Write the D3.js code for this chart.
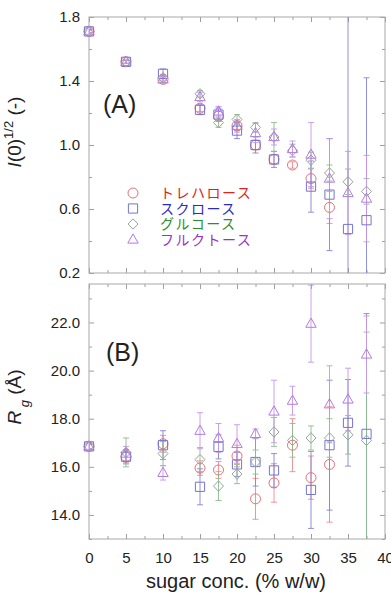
<!DOCTYPE html>
<html>
<head>
<meta charset="utf-8">
<script src="https://cdn.jsdelivr.net/npm/d3@7"></script>
<style>
body { margin: 0; background: #fff; }
text { font-family: "Liberation Sans", Arial, sans-serif; fill: #222; }
</style>
</head>
<body>
<script>
// sugar concentration (% w/w) for each series
var allX = [0, 5, 10, 15, 17.5, 20, 22.5, 25, 27.5, 30, 32.5, 35, 37.5];
var trehaloseX = [0, 5, 10, 15, 17.5, 20, 22.5, 25, 27.5, 30, 32.5];
var sucroseX = [0, 5, 10, 15, 17.5, 20, 22.5, 25, 30, 32.5, 35, 37.5];
var glucoseX = allX;
var fructoseX = allX;

// panel A: I(0)^1/2
var trehaloseI0 = [1.71, 1.52, 1.41, 1.23, 1.18, 1.12, 1.00, 0.91, 0.875, 0.79, 0.61];
var trehaloseI0Err = [0.01, 0.01, 0.02, 0.02, 0.03, 0.03, 0.03, 0.03, 0.02, 0.06, 0.1];
var sucroseI0 = [1.71, 1.52, 1.445, 1.22, 1.19, 1.09, 1.00, 0.91, 0.74, 0.69, 0.475, 0.53];
var sucroseI0Err = [0.01, 0.01, 0.03, 0.03, 0.04, 0.05, 0.05, 0.05, 0.16, 0.35, 1.5, 0.89];
var glucoseI0 = [1.71, 1.52, 1.42, 1.32, 1.14, 1.16, 1.11, 1.05, 0.965, 0.905, 0.825, 0.77, 0.71];
var glucoseI0Err = [0.01, 0.01, 0.02, 0.02, 0.03, 0.03, 0.03, 0.09, 0.04, 0.05, 0.05, 0.08, 0.08];
var fructoseI0 = [1.71, 1.52, 1.41, 1.30, 1.21, 1.12, 1.075, 1.05, 0.975, 0.94, 0.79, 0.70, 0.665];
var fructoseI0Err = [0.01, 0.01, 0.02, 0.03, 0.03, 0.04, 0.06, 0.05, 0.05, 0.2, 0.25, 0.26, 0.27];

// panel B: Rg (A)
var trehaloseRg = [16.85, 16.42, 16.96, 15.95, 15.87, 16.45, 14.67, 15.33, 16.9, 15.55, 16.1];
var trehaloseRgErr = [0.1, 0.25, 0.35, 0.3, 0.35, 0.45, 0.85, 0.8, 1.1, 0.9, 2.4];
var sucroseRg = [16.85, 16.42, 16.9, 15.17, 16.83, 16.1, 16.2, 15.85, 15.04, 16.9, 17.83, 17.37];
var sucroseRgErr = [0.1, 0.3, 0.6, 0.75, 0.5, 0.5, 1.0, 0.7, 1.6, 2.7, 1.8, 5];
var glucoseRg = [16.85, 16.6, 16.55, 16.3, 15.2, 15.7, 16.2, 17.45, 17.1, 17.2, 17.2, 17.33, 17.1];
var glucoseRgErr = [0.1, 0.6, 0.5, 0.5, 0.6, 0.4, 0.5, 0.6, 0.7, 0.5, 0.8, 0.8, 4.5];
var fructoseRg = [16.85, 16.55, 15.75, 17.5, 17.2, 16.95, 17.37, 18.3, 18.75, 21.95, 18.6, 18.8, 20.67];
var fructoseRgErr = [0.1, 0.3, 0.3, 0.75, 0.6, 0.8, 0.2, 1.3, 0.6, 1.6, 1.6, 1.3, 1.6];

var sugarNames = ['トレハロース', 'スクロース', 'グルコース', 'フルクトース'];
var xTicks = [0, 5, 10, 15, 20, 25, 30, 35, 40];
var i0Ticks = [0.2, 0.6, 1.0, 1.4, 1.8];
var rgTicks = [14, 16, 18, 20, 22];

var width = 391, height = 594;
var left = 89, right = 385;

var series = [
    { name: sugarNames[0], shape: 'circle', mark: '#e4727a', bar: '#ee8a8f', text: '#e3201c',
      x: trehaloseX, a: trehaloseI0, aErr: trehaloseI0Err, b: trehaloseRg, bErr: trehaloseRgErr },
    { name: sugarNames[1], shape: 'square', mark: '#7474d2', bar: '#8585d8', text: '#2a2ac4',
      x: sucroseX, a: sucroseI0, aErr: sucroseI0Err, b: sucroseRg, bErr: sucroseRgErr },
    { name: sugarNames[2], shape: 'diamond', mark: '#98a498', bar: '#8cbc8c', text: '#2a8f2a',
      x: glucoseX, a: glucoseI0, aErr: glucoseI0Err, b: glucoseRg, bErr: glucoseRgErr },
    { name: sugarNames[3], shape: 'triangle', mark: '#b47ae0', bar: '#c595ea', text: '#9830d4',
      x: fructoseX, a: fructoseI0, aErr: fructoseI0Err, b: fructoseRg, bErr: fructoseRgErr }
];

var svg = d3.select('body').append('svg')
    .attr('width', width)
    .attr('height', height);

var x = d3.scaleLinear().domain([0, 40]).range([left, right]);
var yA = d3.scaleLinear().domain([0.2, 1.8]).range([273, 17]);
var yB = d3.scaleLinear().domain([13, 23.6]).range([539, 284]);

function shapePath(shape) {
    if (shape == 'circle') return d3.symbol().type(d3.symbolCircle).size(Math.PI * 25)();
    if (shape == 'square') return 'M-4.6,-4.6H4.6V4.6H-4.6Z';
    if (shape == 'diamond') return 'M0,-5.2L5,0L0,5.2L-5,0Z';
    return 'M0,-5.6L5.2,3.6H-5.2Z';
}

function drawFrame(y, ticks, minor, showX) {
    var g = svg.append('g');

    // inward ticks on all four sides
    g.append('g').attr('transform', 'translate(' + left + ',0)')
        .call(d3.axisLeft(y).tickValues(minor).tickSize(-3).tickFormat(''));
    g.append('g').attr('transform', 'translate(' + left + ',0)')
        .call(d3.axisLeft(y).tickValues(ticks).tickSize(-5).tickPadding(9)
            .tickFormat(d3.format('.1f')));
    g.append('g').attr('transform', 'translate(' + right + ',0)')
        .call(d3.axisRight(y).tickValues(minor).tickSize(-3).tickFormat(''));
    g.append('g').attr('transform', 'translate(' + right + ',0)')
        .call(d3.axisRight(y).tickValues(ticks).tickSize(-5).tickFormat(''));

    var xMinor = d3.range(2.5, 40, 5);
    [y.range()[1], y.range()[0]].forEach(function(pos, k) {
        var top = k == 0;
        var axis = top ? d3.axisTop : d3.axisBottom;
        g.append('g').attr('transform', 'translate(0,' + pos + ')')
            .call(axis(x).tickValues(xMinor).tickSize(-3).tickFormat(''));
        var major = axis(x).tickValues(xTicks).tickSize(-5).tickPadding(13);
        if (top || !showX) major.tickFormat('');
        g.append('g').attr('transform', 'translate(0,' + pos + ')').call(major);
    });

    g.selectAll('.domain').remove();
    g.selectAll('.tick line').attr('stroke', '#a0a0a0');
    g.selectAll('.tick text').style('font-size', '15px').attr('fill', '#222');

    g.append('rect')
        .attr('x', left)
        .attr('y', y.range()[1])
        .attr('width', right - left)
        .attr('height', y.range()[0] - y.range()[1])
        .attr('fill', 'none')
        .attr('stroke', '#a8a8a8')
        .attr('stroke-width', 1);
}

function drawPoints(y, valKey, errKey, clipId) {
    svg.append('clipPath').attr('id', clipId)
        .append('rect')
        .attr('x', left).attr('y', y.range()[1])
        .attr('width', right - left).attr('height', y.range()[0] - y.range()[1]);

    var bars = svg.append('g').attr('clip-path', 'url(#' + clipId + ')');
    var marks = svg.append('g');

    series.forEach(function(s) {
        var pts = s.x.map(function(xv, i) {
            return { x: xv, v: s[valKey][i], e: s[errKey][i] };
        });

        var eb = bars.selectAll(null).data(pts).enter().append('g')
            .attr('stroke', s.bar)
            .attr('stroke-width', 0.9);
        eb.append('line')
            .attr('x1', function(d) { return x(d.x); })
            .attr('x2', function(d) { return x(d.x); })
            .attr('y1', function(d) { return y(d.v + d.e); })
            .attr('y2', function(d) { return y(d.v - d.e); });
        eb.append('line')
            .attr('x1', function(d) { return x(d.x) - 3; })
            .attr('x2', function(d) { return x(d.x) + 3; })
            .attr('y1', function(d) { return y(d.v + d.e); })
            .attr('y2', function(d) { return y(d.v + d.e); });
        eb.append('line')
            .attr('x1', function(d) { return x(d.x) - 3; })
            .attr('x2', function(d) { return x(d.x) + 3; })
            .attr('y1', function(d) { return y(d.v - d.e); })
            .attr('y2', function(d) { return y(d.v - d.e); });

        marks.selectAll(null).data(pts).enter().append('path')
            .attr('d', shapePath(s.shape))
            .attr('transform', function(d) { return 'translate(' + x(d.x) + ',' + y(d.v) + ')'; })
            .attr('fill', 'none')
            .attr('stroke', s.mark)
            .attr('stroke-width', 1);
    });
}

drawFrame(yA, i0Ticks, [0.4, 0.8, 1.2, 1.6], false);
drawFrame(yB, rgTicks, [13, 15, 17, 19, 21, 23], true);
drawPoints(yA, 'a', 'aErr', 'clipA');
drawPoints(yB, 'b', 'bErr', 'clipB');

// panel labels
svg.append('text').attr('x', 103).attr('y', 113).style('font-size', '25px').text('(A)');
svg.append('text').attr('x', 106).attr('y', 361).style('font-size', '25px').text('(B)');

// legend
var legend = svg.append('g').selectAll('g')
    .data(series).enter().append('g')
    .attr('transform', function(d, i) { return 'translate(133,' + (193 + i * 15.5) + ')'; });
legend.append('path')
    .attr('d', function(d) { return shapePath(d.shape); })
    .attr('fill', 'none')
    .attr('stroke', function(d) { return d.mark; })
    .attr('stroke-width', 1);
legend.append('text')
    .attr('x', 27)
    .attr('dy', '0.36em')
    .style('font-family', '"Noto Sans CJK JP", sans-serif')
    .style('font-size', '14px')
    .style('letter-spacing', '1.5px')
    .style('fill', function(d) { return d.text; })
    .text(function(d) { return d.name; });

// axis titles
svg.append('text')
    .attr('x', 236).attr('y', 588)
    .attr('text-anchor', 'middle')
    .style('font-size', '20px')
    .text('sugar conc. (% w/w)');

var tA = svg.append('text')
    .attr('transform', 'translate(21,132) rotate(-90)')
    .attr('text-anchor', 'middle')
    .style('font-size', '19px');
tA.append('tspan').style('font-style', 'italic').text('I');
tA.append('tspan').text('(0)');
tA.append('tspan').attr('dy', -8).style('font-size', '13px').text('1/2');
tA.append('tspan').attr('dy', 8).text('  (-)');

var tB = svg.append('text')
    .attr('transform', 'translate(21,397) rotate(-90)')
    .attr('text-anchor', 'middle')
    .style('font-size', '19px');
tB.append('tspan').style('font-style', 'italic').text('R');
tB.append('tspan').attr('dy', 8).style('font-size', '13px').style('font-style', 'italic').text(' g');
tB.append('tspan').attr('dy', -8).text('  (Å)');
</script>
</body>
</html>
